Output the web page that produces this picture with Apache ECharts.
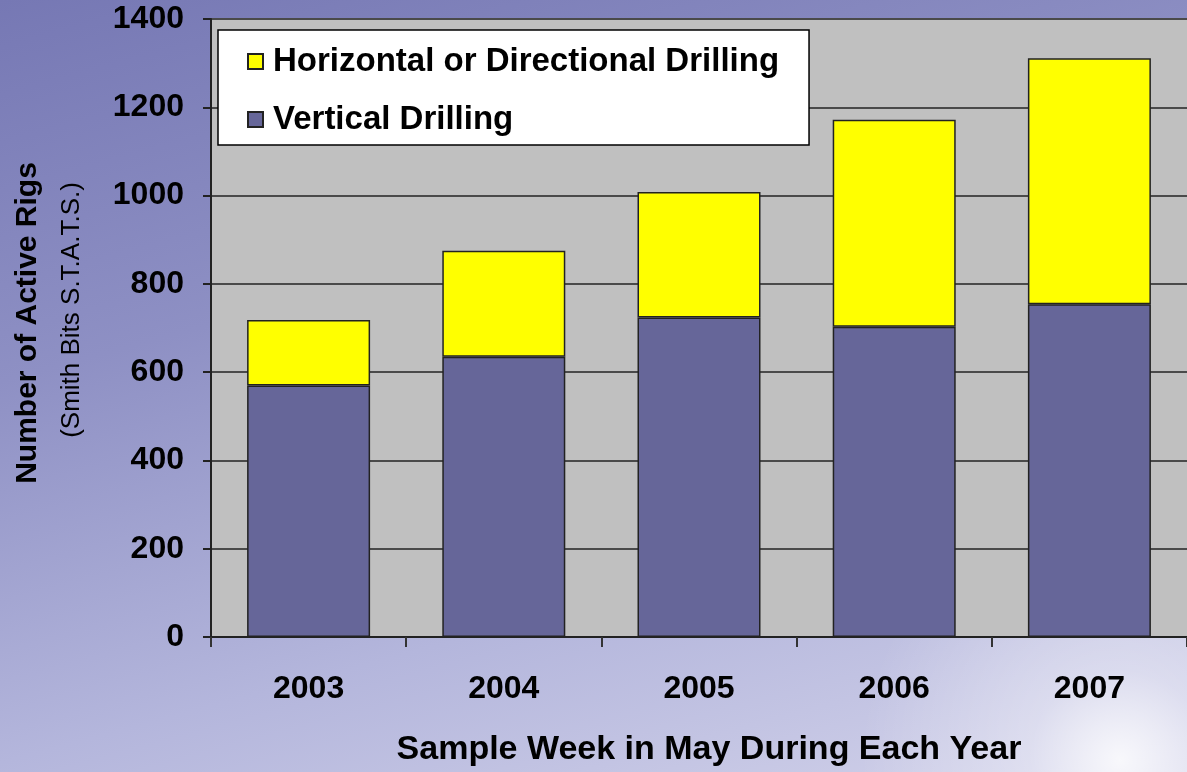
<!DOCTYPE html>
<html>
<head>
<meta charset="utf-8">
<script src="https://cdn.jsdelivr.net/npm/echarts@6/dist/echarts.min.js"></script>
<style>
  html, body { margin: 0; padding: 0; }
  body {
    width: 1187px; height: 772px; overflow: hidden;
    background:
      radial-gradient(circle at 1120px 760px, rgba(255,255,255,0.85) 0px, rgba(255,255,255,0.35) 90px, rgba(255,255,255,0) 260px),
      linear-gradient(165deg, #7678b4 0%, #8e90c4 35%, #b4b6dc 70%, #d2d2ea 100%);
  }
  #chart { width: 1187px; height: 772px; }
</style>
</head>
<body>
<div id="chart"></div>
<script>
const categories = ['2003', '2004', '2005', '2006', '2007'];
const verticalDrilling = [570, 635, 724, 703, 754];
const horizontalDrilling = [148, 240, 284, 469, 557];
const yTicks = { min: 0, max: 1400, interval: 200 };

const FONT = "'Liberation Sans', Arial, sans-serif";
const chart = echarts.init(document.getElementById('chart'), null, { renderer: 'canvas' });

chart.setOption({
  backgroundColor: 'transparent',
  animation: false,
  textStyle: { fontFamily: FONT },
  grid: {
    left: 211, top: 19, width: 980, height: 621,
    show: true, backgroundColor: '#c0c0c0', borderWidth: 0
  },
  legend: {
    data: ['Horizontal or Directional Drilling', 'Vertical Drilling'],
    orient: 'vertical',
    left: 218, top: 30,
    backgroundColor: '#ffffff',
    borderColor: '#000000', borderWidth: 1.5,
    padding: [15, 30, 9, 29],
    itemWidth: 15, itemHeight: 15, itemGap: 25,
    icon: 'rect',
    textStyle: {
      fontFamily: FONT, fontSize: 33, fontWeight: 'bold', color: '#000',
      lineHeight: 32, padding: [0, 0, 0, 5]
    }
  },
  xAxis: {
    type: 'category',
    data: categories,
    axisLine: { lineStyle: { color: '#222', width: 2 } },
    axisTick: { show: true, length: 10, lineStyle: { color: '#333', width: 2 } },
    axisLabel: { fontFamily: FONT, fontSize: 32, fontWeight: 'bold', color: '#000', margin: 36 },
    name: 'Sample Week in May During Each Year',
    nameLocation: 'middle',
    nameGap: 96,
    nameTextStyle: { fontFamily: FONT, fontSize: 34, fontWeight: 'bold', color: '#000', padding: [0, 0, 0, 20] }
  },
  yAxis: {
    type: 'value',
    min: yTicks.min, max: yTicks.max, interval: yTicks.interval,
    axisLine: { show: true, lineStyle: { color: '#222', width: 2 } },
    axisTick: { show: true, length: 8, lineStyle: { color: '#222', width: 2 } },
    axisLabel: {
      fontFamily: FONT, fontSize: 32, fontWeight: 'bold', color: '#000', margin: 27,
      formatter: function (v) { return String(v); }
    },
    splitLine: { show: true, lineStyle: { color: '#4a4a4a', width: 2 } }
  },
  graphic: [
    {
      type: 'text', x: 28, y: 323, rotation: Math.PI / 2,
      style: {
        text: 'Number of Active Rigs', fontFamily: FONT, fontSize: 30, fontWeight: 'bold',
        fill: '#000', textAlign: 'center', textVerticalAlign: 'middle'
      }
    },
    {
      type: 'text', x: 72, y: 310, rotation: Math.PI / 2,
      style: {
        text: '(Smith Bits S.T.A.T.S.)', fontFamily: FONT, fontSize: 26,
        fill: '#000', textAlign: 'center', textVerticalAlign: 'middle'
      }
    }
  ],
  series: [
    {
      name: 'Vertical Drilling', type: 'bar', stack: 'rigs', barWidth: 123,
      data: verticalDrilling,
      itemStyle: { color: '#666699', borderColor: '#222', borderWidth: 1.5 }
    },
    {
      name: 'Horizontal or Directional Drilling', type: 'bar', stack: 'rigs', barWidth: 123,
      data: horizontalDrilling,
      itemStyle: { color: '#ffff00', borderColor: '#222', borderWidth: 1.5 }
    }
  ]
});
</script>
</body>
</html>
